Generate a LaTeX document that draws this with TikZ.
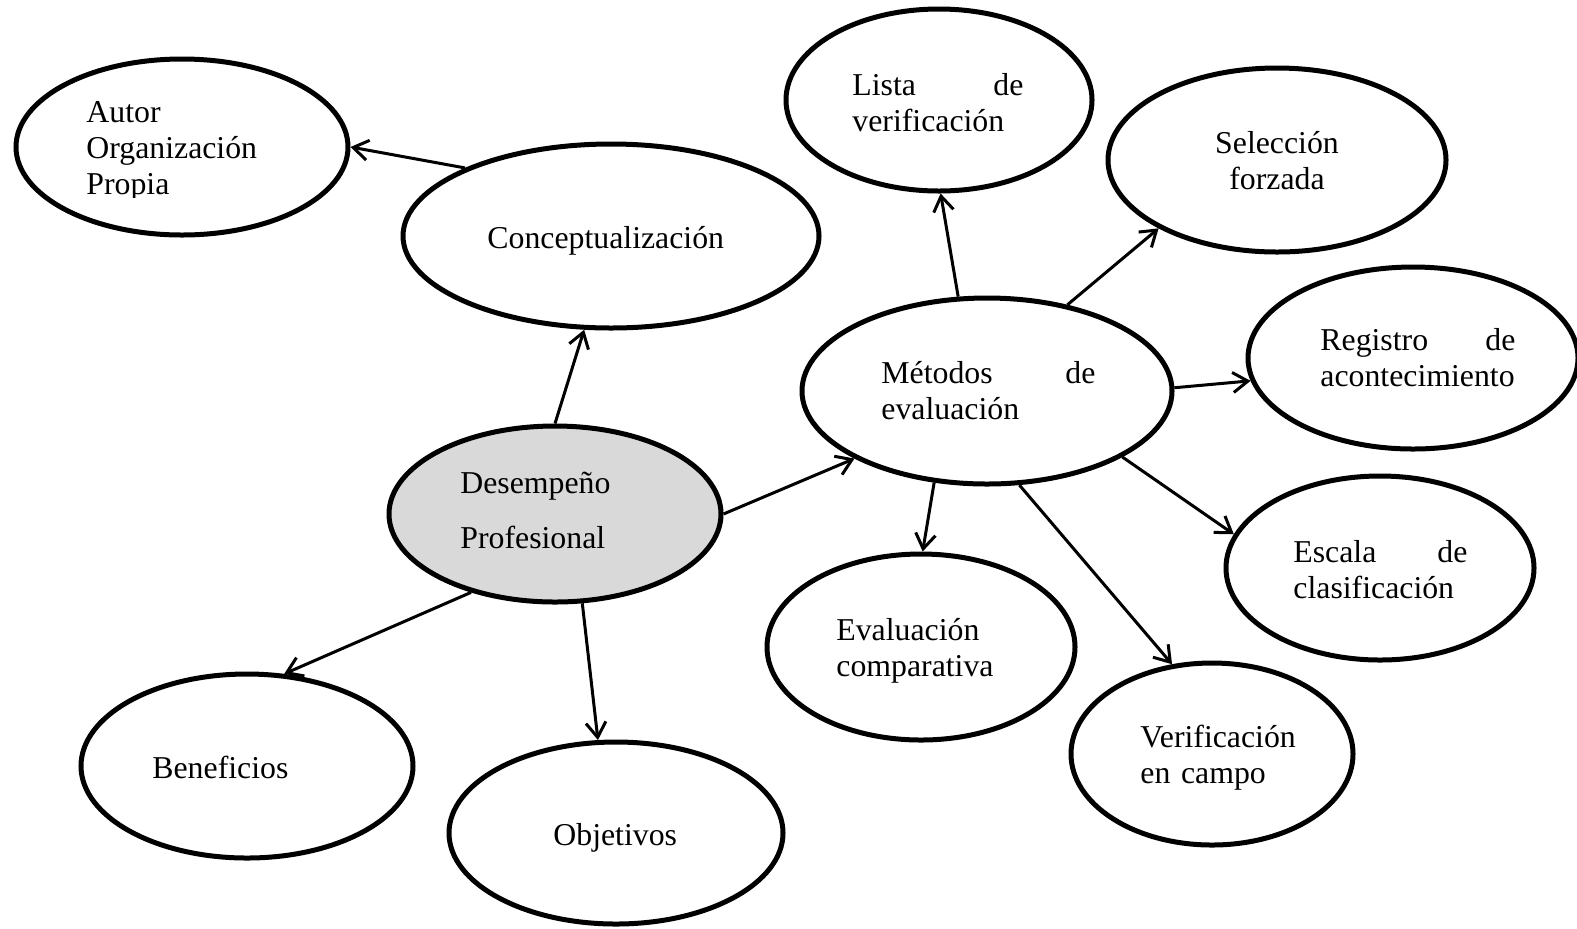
\documentclass[tikz,border=0pt]{standalone}
\usepackage{fontspec}
\setmainfont{Liberation Serif}
\usetikzlibrary{shapes.geometric,arrows.meta}
\definecolor{hubgray}{RGB}{217,217,217}
\begin{document}
\begin{tikzpicture}[x=0.5pt,y=-0.5pt,
  bubble/.style 2 args={ellipse, draw, line width=2.5pt,
    minimum width=#1pt, minimum height=#2pt, inner sep=0pt},
  lbl/.style={inner sep=0pt, anchor=base west,
    font=\fontsize{15.9}{18}\selectfont},
  para/.style={lbl, text width=#1pt, align=left},
  link/.style={line width=1.5pt,
    -{Straight Barb[length=7.5pt,width=10pt,line width=1.5pt]}},
]
\useasboundingbox (0,0) rectangle (1577,928);

% ellipses
\node[bubble={166}{88}] (autor) at (182,147) {};
\node[bubble={208}{92}] (concept) at (611,236) {};
\node[bubble={166}{88}, fill=hubgray] (desemp) at (555,514) {};
\node[bubble={166}{92}] (benef) at (247,766) {};
\node[bubble={167}{91}] (obj) at (616,833) {};
\node[bubble={185}{93}] (metodos) at (987,391) {};
\node[bubble={153}{91}] (lista) at (939,100) {};
\node[bubble={169}{92}] (selec) at (1277,160) {};
\node[bubble={165}{91}] (regis) at (1413,358) {};
\node[bubble={154}{92}] (escala) at (1380,568) {};
\node[bubble={154}{93}] (evalc) at (921,647) {};
\node[bubble={141}{91}] (verif) at (1212,754) {};

% texts
\begin{scope}
  \clip (0,0) rectangle (420,197);
  \node[para=120] (t-autor) at (86,122) {Autor\\Organización\\Propia};
\end{scope}
\node[lbl] (t-concept) at (487,248) {Conceptualización};
\node[para=120, font=\fontsize{15.9}{27.5}\selectfont] (t-desemp) at (460,493) {Desempeño\\Profesional};
\node[lbl] (t-benef) at (152,778) {Beneficios};
\node[lbl] (t-obj) at (553,845) {Objetivos};
\node[para=107] (t-metodos) at (881,383) {Métodos\hfill de\\evaluación};
\node[para=85.5] (t-lista) at (852,95) {Lista\hfill de\\verificación};
\node[lbl, text width=100pt, align=center, anchor=base] (t-selec) at (1277,153) {Selección\\forzada};
\node[para=97.5] (t-regis) at (1320,350) {Registro\hfill de\\acontecimiento};
\node[para=87] (t-escala) at (1293,562) {Escala\hfill de\\clasificación};
\node[para=100] (t-evalc) at (836,640) {Evaluación\\comparativa};
\node[para=100] (t-verif) at (1140,747) {Verificación\\en campo};

% connectors
\draw[link] (concept.155) -- (autor.0);
\draw[link] (desemp.90) -- (concept.-106.8);
\draw[link] (desemp.0) -- (metodos.-153.1);
\draw[link] (desemp.-137.4) -- (benef.68.8);
\draw[link] (desemp.-73.4) -- (obj.101.9);
\draw[link] (metodos.107.7) -- (lista.-89.4);
\draw[link] (metodos.47) -- (selec.-150.5);
\draw[link] (metodos.1) -- (regis.-172.3);
\draw[link] (metodos.-26.7) -- (escala.167.9);
\draw[link] (metodos.-120.7) -- (evalc.89.4);
\draw[link] (metodos.-71.7) -- (verif.114.2);
\end{tikzpicture}
\end{document}
